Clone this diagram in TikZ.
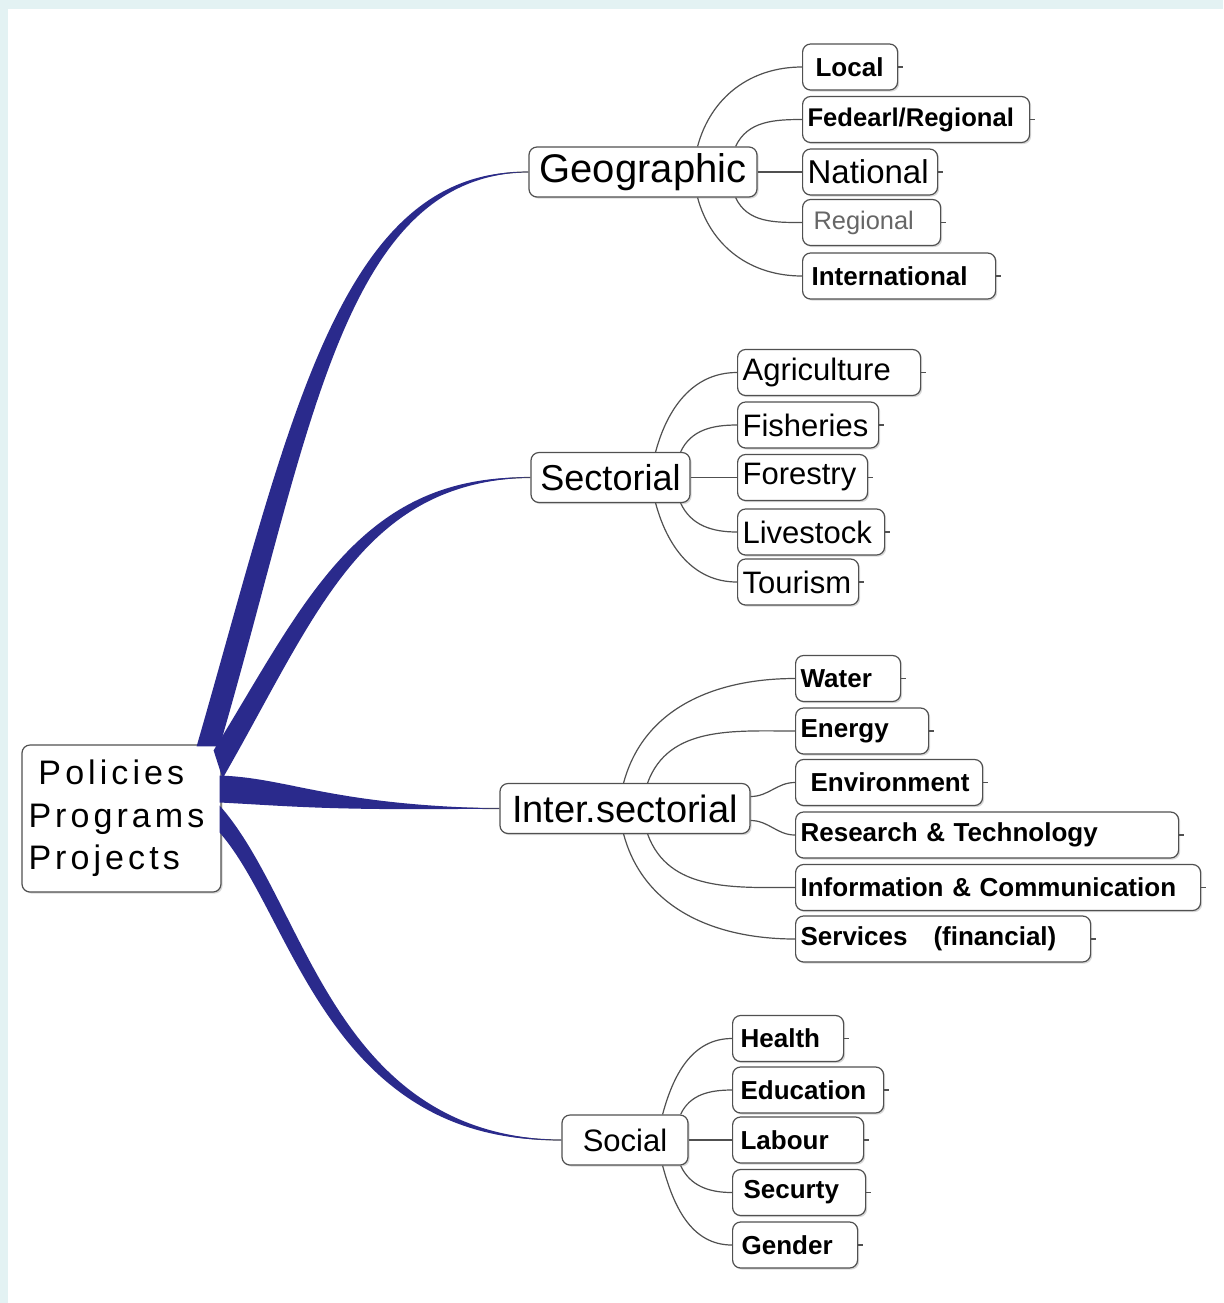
\documentclass[tikz,border=0pt]{standalone}
\usepackage{fontspec}
\setmainfont{Liberation Sans}
\newfontfamily\rootfont[LetterSpace=12]{Liberation Sans}
\usetikzlibrary{calc,shadows}
\definecolor{branchblue}{RGB}{42,42,140}
\definecolor{frameblue}{RGB}{227,242,243}
\definecolor{twiggray}{RGB}{80,80,80}

\begin{document}
\begin{tikzpicture}[x=0.5pt, y=-0.5pt,
  box/.style={draw=twiggray, line width=0.6pt, rounded corners=4pt, fill=white, minimum height=23pt, inner ysep=2pt,
    drop shadow={shadow xshift=0.8pt, shadow yshift=-0.8pt, opacity=0.3}},
  branch/.style={box, minimum width=#1, minimum height=25pt},
  leaf/.style={box, anchor=west, inner xsep=2.5pt, text width=#1, align=left, font=\bfseries\fontsize{13}{15}\selectfont},
  bigleaf/.style={leaf=#1, font=\fontsize{15.5}{18}\selectfont},
  twig/.style={draw=twiggray, line width=0.6pt},
  limb/.style={fill=branchblue}]

\fill[frameblue] (0,0) rectangle (1223,1303);
\fill[white] (8,9) rectangle (1223,1303);
\useasboundingbox (0,0) rectangle (1223,1303);

\node[box, minimum width=99.5pt, minimum height=73.5pt, inner xsep=3pt, text width=93pt, align=left, font=\rootfont\fontsize{17}{21.3}\selectfont] (ppp) at (121.5,818.5) {\hspace*{5pt}Policies\\Programs\\Projects};

\node[branch=114pt, font=\fontsize{20}{24}\selectfont] (geo) at (643,172) {Geographic};
\node[branch=79.5pt, font=\fontsize{18}{22}\selectfont] (sect) at (610.5,477.5) {Sectorial};
\node[branch=125pt, font=\fontsize{19}{22}\selectfont] (inter) at (625,808.5) {Inter.sectorial};
\node[branch=63pt, font=\fontsize{15.5}{18}\selectfont] (soc) at (625,1140) {Social};

\node[leaf=42.5pt] (local) at (802,67) {\hspace*{4pt}Local};
\node[leaf=108.5pt, font=\bfseries\fontsize{12.8}{15}\selectfont] (fed) at (802,119.5) {Fedearl/Regional};
\node[leaf=62.5pt, font=\fontsize{16.5}{19}\selectfont] (nat) at (802,172) {National};
\node[leaf=64pt, text=black!60, font=\fontsize{12.7}{15}\selectfont] (regl) at (802,222.5) {\hspace*{3pt}Regional};
\node[leaf=91.5pt] (intl) at (802,276) {\hspace*{2pt}International};

\node[bigleaf=86.5pt] (agri) at (737,372.5) {Agriculture};
\node[bigleaf=65.5pt] (fish) at (737,425) {Fisheries};
\node[bigleaf=60pt] (fore) at (737,477.5) {Forestry};
\node[bigleaf=68.5pt] (live) at (737,532) {Livestock};
\node[bigleaf=55.5pt] (tour) at (737,582) {Tourism};

\node[leaf=47.5pt] (water) at (795,678.5) {Water};
\node[leaf=61.5pt] (ener) at (795,731) {Energy};
\node[leaf=88.5pt] (env) at (795,782.5) {\hspace*{5pt}Environment};
\node[leaf=186.5pt] (res) at (795,835) {Research \& Technology};
\node[leaf=197.5pt] (info) at (795,887.5) {Information \& Communication};
\node[leaf=142.5pt] (serv) at (795,939) {Services\quad(financial)};

\node[leaf=50.5pt] (health) at (732,1038.5) {\hspace*{1.5pt}Health};
\node[leaf=70.5pt] (edu) at (732,1090) {\hspace*{1.5pt}Education};
\node[leaf=60.5pt] (lab) at (732,1140) {\hspace*{1.5pt}Labour};
\node[leaf=61.5pt] (secu) at (732,1192.5) {\hspace*{3pt}Securty};
\node[leaf=57.5pt] (gend) at (732,1245) {\hspace*{2pt}Gender};

\draw[twig] ($(ppp.north east)+(-14,0)$) .. controls (300,430) and (340,172) .. (geo.west);
\fill[limb] ($(ppp.north east)+(-25,2)$) .. controls (289,427) and (338,168) .. (geo.west)
  .. controls (342,176) and (311,433) .. ($(ppp.north east)+(-2,2)$) -- cycle;
\draw[twig] ($(ppp.north east)+(-1,25)$) .. controls (310,610) and (360,478) .. (sect.west);
\fill[limb] ($(ppp.north east)+(-8,6)$) .. controls (303,606) and (358,474) .. (sect.west)
  .. controls (362,482) and (317,614) .. ($(ppp.north east)+(1,34)$) -- cycle;
\draw[twig] ($(ppp.east)+(0,-30)$) .. controls (290,790) and (330,808) .. (inter.west);
\fill[limb] ($(ppp.east)+(-2,-43)$) .. controls (290,778) and (330,805) .. (inter.west)
  .. controls (330,811) and (290,806) .. ($(ppp.east)+(-2,-16)$) -- cycle;
\draw[twig] ($(ppp.east)+(0,0)$) .. controls (300,910) and (330,1140) .. (soc.west);
\fill[limb] ($(ppp.east)+(-2,-13)$) .. controls (307,904) and (332,1136) .. (soc.west)
  .. controls (328,1144) and (293,916) .. ($(ppp.east)+(-2,14)$) -- cycle;

\draw[twig] ($(geo.north east)+(-60,0)$) to[out=75,in=180] (local.west);
\draw[twig] ($(geo.north east)+(-22,0)$) to[out=65,in=180] (fed.west);
\draw[twig] (geo.east) -- (nat.west);
\draw[twig] ($(geo.south east)+(-22,0)$) to[out=-65,in=180] (regl.west);
\draw[twig] ($(geo.south east)+(-60,0)$) to[out=-75,in=180] (intl.west);

\draw[twig] ($(sect.north east)+(-35,0)$) to[out=75,in=180] (agri.west);
\draw[twig] ($(sect.north east)+(-10,0)$) to[out=65,in=180] (fish.west);
\draw[twig] (sect.east) -- (fore.west);
\draw[twig] ($(sect.south east)+(-10,0)$) to[out=-65,in=180] (live.west);
\draw[twig] ($(sect.south east)+(-35,0)$) to[out=-75,in=180] (tour.west);

\draw[twig] ($(inter.north east)+(-127,0)$) to[out=75,in=180] (water.west);
\draw[twig] ($(inter.north east)+(-103,0)$) to[out=70,in=180] (ener.west);
\draw[twig] ($(inter.east)+(0,-12)$) to[out=0,in=180] (env.west);
\draw[twig] ($(inter.east)+(0,12)$) to[out=0,in=180] (res.west);
\draw[twig] ($(inter.south east)+(-103,0)$) to[out=-70,in=180] (info.west);
\draw[twig] ($(inter.south east)+(-127,0)$) to[out=-75,in=180] (serv.west);

\draw[twig] ($(soc.north east)+(-26,0)$) to[out=75,in=180] (health.west);
\draw[twig] ($(soc.north east)+(-8,0)$) to[out=65,in=180] (edu.west);
\draw[twig] (soc.east) -- (lab.west);
\draw[twig] ($(soc.south east)+(-8,0)$) to[out=-65,in=180] (secu.west);
\draw[twig] ($(soc.south east)+(-26,0)$) to[out=-75,in=180] (gend.west);

\foreach \n in {local,fed,nat,regl,intl,agri,fish,fore,live,tour,water,ener,env,res,info,serv,health,edu,lab,secu,gend}
  \draw[twig] (\n.east) -- ++(5,0);
\end{tikzpicture}
\end{document}
